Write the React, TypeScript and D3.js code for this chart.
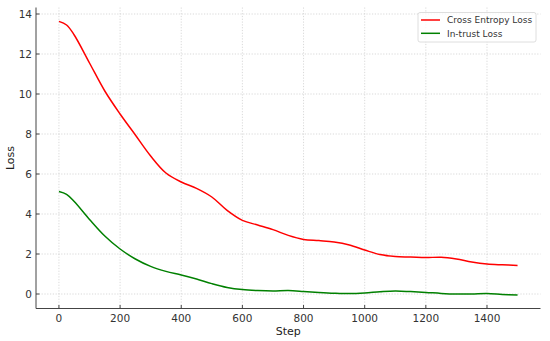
import React from 'react';
import * as d3 from 'd3';

// steps sampled from the chart
const steps = [0, 25, 50, 100, 150, 200, 250, 300, 350, 400, 450, 500, 550, 600, 650, 700, 750,
    800, 850, 900, 950, 1000, 1050, 1100, 1150, 1200, 1250, 1300, 1350, 1400, 1450, 1500];
const crossEntropyLoss = [13.63, 13.45, 12.95, 11.55, 10.15, 9.0, 7.95, 6.9, 6.05, 5.6, 5.28, 4.85, 4.18, 3.68,
    3.45, 3.22, 2.93, 2.73, 2.67, 2.6, 2.45, 2.2, 1.97, 1.87, 1.85, 1.82, 1.84, 1.75, 1.6, 1.5, 1.46, 1.43];
const inTrustLoss = [5.12, 4.98, 4.62, 3.73, 2.9, 2.25, 1.75, 1.38, 1.13, 0.95, 0.75, 0.52, 0.33, 0.22,
    0.17, 0.15, 0.17, 0.13, 0.08, 0.04, 0.02, 0.05, 0.11, 0.15, 0.12, 0.08, 0.03, 0.0, 0.0, 0.02, -0.02, -0.05];
const xTicks = [0, 200, 400, 600, 800, 1000, 1200, 1400];
const yTicks = [0, 2, 4, 6, 8, 10, 12, 14];
const seriesNames = ['Cross Entropy Loss', 'In-trust Loss'];
const seriesColors = ['#ff0000', '#008000'];

const width = 550;
const height = 341;
const left = 36, right = 540.5, top = 7.5, bottom = 308.5;
const font = 'DejaVu Sans, sans-serif';

export default function App() {
    const x = d3.scaleLinear().domain([-75, 1575]).range([left, right]);
    const y = d3.scaleLinear().domain([-0.725, 14.325]).range([bottom, top]);

    const line = d3.line<number>()
        .x((_, i) => x(steps[i]))
        .y(d => y(d))
        .curve(d3.curveCatmullRom.alpha(0.5));

    const series = [crossEntropyLoss, inTrustLoss];

    return (
        <svg width={width} height={height} style={{position: 'absolute', left: 0, top: 0}}
             fontFamily={font}>
            <rect width={width} height={height} fill="#fff"/>
            {/* grid */}
            <g stroke="#cfcfcf" strokeWidth={0.8} strokeDasharray="1.2,1.6">
                {xTicks.map(t => <line key={'gx' + t} x1={x(t)} x2={x(t)} y1={top} y2={bottom}/>)}
                {yTicks.map(t => <line key={'gy' + t} x1={left} x2={right} y1={y(t)} y2={y(t)}/>)}
            </g>
            {/* lines */}
            {series.map((s, i) => (
                <path key={i} d={line(s) || ''} fill="none" stroke={seriesColors[i]} strokeWidth={1.5}/>
            ))}
            {/* axes */}
            <g stroke="#444" strokeWidth={1}>
                <line x1={left} x2={left} y1={top} y2={bottom}/>
                <line x1={left} x2={right} y1={bottom} y2={bottom}/>
                {xTicks.map(t => <line key={'tx' + t} x1={x(t)} x2={x(t)} y1={bottom} y2={bottom - 3.5}/>)}
                {yTicks.map(t => <line key={'ty' + t} x1={left} x2={left + 3.5} y1={y(t)} y2={y(t)}/>)}
            </g>
            <g fontSize={10.5} fill="#333">
                {xTicks.map(t => (
                    <text key={'lx' + t} x={x(t)} y={bottom + 13} textAnchor="middle">{t}</text>
                ))}
                {yTicks.map(t => (
                    <text key={'ly' + t} x={left - 4} y={y(t) + 3.8} textAnchor="end">{t}</text>
                ))}
            </g>
            <text x={(left + right) / 2} y={335} textAnchor="middle" fontSize={11} fill="#222">Step</text>
            <text transform={`translate(14,${(top + bottom) / 2}) rotate(-90)`} textAnchor="middle"
                  fontSize={11} fill="#222">Loss</text>
            {/* legend */}
            <g>
                <rect x={418} y={12.5} width={118} height={29.5} rx={2} fill="#fff" fillOpacity={0.8}
                      stroke="#d6d6d6" strokeWidth={0.8}/>
                {seriesNames.map((n, i) => (
                    <g key={n}>
                        <line x1={421} x2={440} y1={20 + i * 13.3} y2={20 + i * 13.3}
                              stroke={seriesColors[i]} strokeWidth={1.5}/>
                        <text x={447} y={23.3 + i * 13.3} fontSize={9} fill="#333">{n}</text>
                    </g>
                ))}
            </g>
        </svg>
    );
}
